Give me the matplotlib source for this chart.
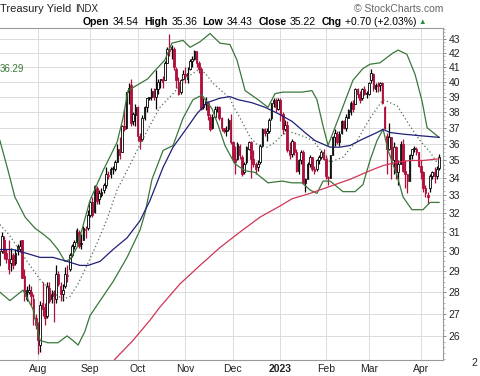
import numpy as np
import matplotlib.pyplot as plt
from matplotlib.ticker import FixedLocator, NullFormatter

plt.rcParams['font.family'] = ['Liberation Sans', 'DejaVu Sans']

# daily OHLC (trading days, 7 Jul 2022 .. 14 Apr 2023), yield x10
opens = [
    29.3, 30.0, 30.6, 29.9, 29.6, 29.4, 29.8, 29.4, 30.0, 30.1, 30.6, 28.8, 27.7, 28.0, 28.0, 27.7, 26.8,
    26.5, 25.6, 27.5, 27.3, 26.9, 28.2, 27.7, 28.0, 27.7, 28.9, 28.3, 27.9, 28.3, 28.8, 29.1, 29.8, 30.3, 30.5, 31.0, 30.4, 30.6, 31.1, 31.2,
    31.9, 32.6, 32.1, 33.4, 32.8, 33.0, 33.3, 33.6, 34.1, 34.2, 34.5, 34.5, 34.9, 35.7, 35.5, 37.1, 37.0, 39.3, 39.8, 37.4, 37.8,
    38.3, 36.5, 36.3, 37.6, 38.3, 38.9, 39.0, 39.4, 39.0, 39.5, 40.1, 40.2, 40.1, 41.3, 42.3, 42.3, 42.3, 40.9, 40.0, 39.3, 40.2,
    40.5, 40.2, 40.9, 41.4, 41.6, 42.1, 41.3, 40.9, 38.3, 38.5, 38.6, 37.7, 37.0, 37.7, 38.3, 38.3, 37.6, 37.0, 36.8, 36.9, 37.5,
    36.1, 35.1, 35.1, 35.9, 35.2, 34.3, 34.9, 35.7, 36.1, 35.1, 34.8, 34.6, 34.9, 35.9, 36.9, 36.7, 36.8, 37.6, 38.6, 38.8, 38.2,
    38.8, 37.9, 36.9, 37.2, 35.6, 35.4, 36.1, 35.5, 34.4, 35.0, 35.5, 33.7, 33.9, 34.8, 35.2, 34.5, 34.5, 35.0, 35.2, 35.5,
    35.1, 34.0, 34.0, 35.3, 36.4, 36.6, 36.1, 36.7, 37.4, 37.0, 37.6, 38.0, 38.6, 38.5, 39.5, 39.2, 38.9, 39.5, 39.2,
    39.2, 40.1, 40.5, 39.5, 39.8, 39.8, 39.9, 38.3, 36.5, 35.7, 36.4, 35.0, 35.8, 34.3, 34.8, 36.0, 34.4, 34.2, 33.8, 35.3, 35.7, 35.7, 35.5,
    34.7, 34.3, 33.4, 33.0, 33.4, 34.1, 34.3, 34.1, 34.54,
]
highs = [
    30.1, 31.0, 30.8, 30.1, 30.6, 30.2, 29.9, 30.1, 30.4, 30.6, 30.6, 29.1, 28.3, 28.4, 28.3, 27.9, 27.0,
    26.6, 27.6, 28.5, 27.5, 28.5, 28.5, 28.1, 28.1, 29.3, 29.0, 28.5, 28.4, 29.2, 29.3, 29.9, 30.4, 30.6, 31.2, 31.1, 30.9, 31.3, 31.3, 32.2,
    32.7, 32.9, 33.6, 33.5, 33.3, 33.4, 33.7, 34.6, 34.4, 34.6, 34.7, 35.0, 36.0, 36.4, 37.2, 38.2, 39.3, 39.9, 40.2, 38.0, 38.5,
    38.4, 36.7, 37.8, 38.4, 38.9, 39.0, 39.6, 39.6, 40.8, 40.2, 40.2, 40.4, 41.4, 42.4, 43.4, 42.6, 42.4, 41.0, 40.3, 40.2, 40.8,
    41.0, 41.0, 41.6, 41.8, 42.2, 42.1, 41.4, 41.0, 38.9, 39.0, 38.7, 37.9, 37.9, 38.4, 38.4, 38.4, 37.7, 37.0, 37.1, 37.6, 37.9,
    36.2, 35.9, 36.1, 36.0, 35.3, 34.9, 35.9, 36.2, 36.2, 35.6, 34.9, 35.0, 36.0, 37.0, 37.0, 37.0, 37.6, 38.6, 38.9, 38.9, 38.9,
    38.9, 38.0, 37.5, 37.4, 36.1, 36.3, 36.2, 35.7, 35.1, 35.6, 35.6, 34.0, 34.9, 35.3, 35.2, 34.7, 35.1, 35.3, 35.6, 35.7,
    35.3, 34.1, 35.3, 36.5, 36.9, 36.8, 36.8, 37.5, 37.5, 37.9, 38.2, 38.7, 38.8, 39.6, 39.6, 39.4, 39.6, 39.7, 39.4,
    40.0, 40.9, 40.6, 39.9, 40.0, 40.0, 40.0, 38.4, 36.7, 37.3, 36.4, 36.1, 35.9, 35.0, 36.2, 36.3, 35.0, 34.2, 35.4, 35.7, 35.9, 35.8, 35.5,
    35.0, 34.4, 33.6, 33.2, 34.2, 34.4, 34.6, 34.7, 35.36,
]
lows = [
    29.2, 29.9, 29.6, 29.4, 28.9, 29.0, 29.1, 29.3, 29.8, 30.0, 28.7, 27.6, 27.6, 27.9, 27.4, 26.5, 26.3,
    25.2, 25.3, 26.9, 26.5, 26.8, 27.5, 27.5, 26.6, 27.5, 28.3, 27.6, 27.6, 28.2, 28.5, 29.0, 29.7, 30.1, 30.4, 30.2, 30.1, 30.6, 30.7, 31.1,
    31.8, 31.8, 32.0, 32.5, 32.5, 32.9, 33.1, 33.4, 33.9, 34.0, 34.2, 34.4, 34.9, 35.1, 35.5, 36.8, 36.9, 38.5, 37.1, 37.2, 37.1,
    36.2, 35.7, 36.2, 37.5, 38.0, 38.8, 38.8, 38.8, 38.2, 39.2, 39.6, 39.6, 40.1, 41.3, 41.8, 41.6, 40.8, 39.6, 39.1, 39.2, 40.1,
    39.9, 39.9, 40.8, 41.0, 41.5, 41.0, 40.6, 38.1, 38.2, 38.1, 37.5, 36.8, 36.9, 37.6, 38.0, 37.5, 36.8, 36.7, 36.5, 36.8, 36.0,
    34.9, 34.2, 35.0, 35.1, 34.1, 34.2, 34.8, 35.6, 34.0, 34.6, 34.2, 34.4, 34.8, 35.8, 36.5, 36.2, 36.7, 37.5, 38.3, 38.0, 38.1,
    37.4, 36.6, 36.8, 35.5, 35.1, 35.2, 35.3, 34.3, 34.2, 34.8, 33.7, 33.2, 33.9, 34.6, 34.4, 34.2, 34.4, 34.8, 35.1, 35.0,
    33.9, 33.6, 34.0, 35.3, 35.9, 36.0, 35.9, 36.6, 36.9, 36.8, 37.6, 37.8, 38.0, 38.5, 38.9, 38.6, 38.8, 39.1, 38.9,
    39.1, 39.9, 39.4, 39.3, 39.3, 39.4, 38.5, 36.9, 34.2, 35.6, 33.9, 34.2, 33.9, 33.6, 34.8, 34.3, 33.4, 33.1, 33.8, 35.1, 35.5, 35.3, 34.6,
    33.9, 33.2, 32.9, 32.5, 33.2, 33.9, 33.7, 33.9, 34.43,
]
closes = [
    30.0, 30.8, 29.9, 29.6, 29.1, 29.6, 29.3, 29.9, 30.3, 30.3, 28.7, 27.8, 28.1, 28.1, 27.8, 26.8, 26.5,
    25.8, 27.4, 27.2, 26.8, 28.3, 27.6, 27.9, 27.8, 28.9, 28.4, 27.9, 28.1, 28.9, 28.8, 29.8, 30.3, 30.5, 31.1, 30.3, 30.4, 31.2, 31.1, 31.9,
    32.6, 31.9, 33.5, 32.7, 33.1, 33.2, 33.6, 34.2, 34.1, 34.5, 34.5, 34.9, 35.7, 35.3, 37.1, 36.9, 39.3, 39.6, 37.3, 37.9, 38.3,
    36.5, 36.2, 37.6, 38.3, 38.9, 38.9, 39.4, 39.0, 39.5, 40.0, 40.2, 40.0, 41.3, 42.3, 42.1, 42.4, 41.0, 40.1, 39.2, 40.1, 40.5,
    40.4, 40.6, 41.4, 41.6, 42.1, 41.3, 40.9, 38.2, 38.5, 38.7, 37.8, 36.9, 37.7, 38.2, 38.3, 37.6, 37.0, 36.8, 36.8, 37.5, 36.1,
    35.1, 34.9, 36.0, 35.3, 34.2, 34.8, 35.8, 36.1, 35.1, 34.8, 34.5, 34.8, 35.9, 36.9, 36.7, 36.8, 37.5, 38.6, 38.8, 38.3, 38.8,
    37.9, 36.9, 37.2, 35.6, 35.3, 36.2, 35.5, 34.4, 35.0, 35.5, 33.7, 33.9, 34.8, 35.2, 34.5, 34.4, 35.0, 35.2, 35.5, 35.1,
    34.1, 34.0, 35.3, 36.4, 36.7, 36.1, 36.6, 37.4, 37.0, 37.7, 38.1, 38.6, 38.2, 39.5, 39.2, 38.8, 39.5, 39.2, 39.2,
    39.9, 40.6, 39.6, 39.8, 39.7, 39.9, 38.6, 37.0, 35.7, 36.4, 35.0, 35.8, 34.3, 34.8, 36.0, 34.4, 34.2, 33.8, 35.3, 35.7, 35.7, 35.5, 34.7,
    34.3, 33.4, 33.1, 32.9, 34.1, 34.3, 34.1, 34.52, 35.22,
]

# overlays (x = trading-day index)
bb_upper_x = [0.2, 3.8, 6.8, 11.3, 15.7, 19.2, 22.3, 25.8, 28.9, 31.1, 34.2, 37.7, 39.9, 45.7, 51.9, 54.5, 56.7,
              58.9, 65.5, 67.7, 73.0, 76.1, 81.0, 84.1, 88.5, 92.9, 97.3, 101.7, 104.8, 108.4, 114.1, 118.5,
              121.6, 125.1, 133.5, 137.9, 140.1, 142.8, 145.0, 151.2, 156.0, 160.4, 163.5, 167.9, 173.7, 175.9,
              179.8, 183.4, 186.5, 188.7, 194]
bb_upper = [36.2, 34.4, 32.9, 31.8, 31.2, 30.9, 30.6, 30.1, 29.5, 29.6, 30.2, 31.7, 32.7, 34.4, 36.1, 37.6, 39.4,
            39.6, 40.2, 40.6, 41.5, 42.7, 42.9, 42.4, 42.8, 43.4, 42.7, 42.6, 41.5, 39.4, 38.8, 38.3,
            39.2, 39.3, 39.3, 39.4, 38.8, 37.1, 35.9, 38.2, 40.1, 40.9, 41.2, 41.3, 42.0, 42.2,
            41.9, 40.5, 38.7, 37.0, 36.4]
bb_lower_x = [0.2, 4.6, 10.4, 14.8, 17.9, 21.4, 25.8, 29.8, 32.4, 34.7, 37.7, 39.9, 44.4, 50.1, 56.3, 62.0, 64.2,
              67.3, 72.2, 76.6, 81.0, 85.4, 89.4, 93.8, 96.4, 99.5, 103.9, 108.4, 112.8, 118.5, 124.7, 129.1,
              133.5, 137.0, 140.1, 142.8, 145.9, 151.6, 156.9, 160.4, 163.5, 166.6, 169.3, 171.5, 175.5, 178.1,
              182.0, 186.9, 190.0, 194]
bb_lower = [28.0, 27.6, 28.1, 27.2, 25.8, 25.7, 25.7, 26.0, 25.8, 25.6, 26.2, 26.9, 27.6, 28.5, 29.7, 31.1, 32.0,
            33.9, 35.6, 35.9, 37.6, 38.8, 39.1, 38.2, 37.2, 35.9, 34.8, 34.4, 34.3, 33.7, 33.8, 33.7,
            33.7, 33.3, 33.1, 33.8, 33.8, 33.2, 33.2, 33.6, 35.0, 36.2, 36.9, 35.6, 34.1, 32.9,
            32.2, 32.2, 32.6, 32.6]
sma20_x = [0.2, 4.6, 9.1, 13.5, 17.9, 22.3, 25.8, 28.9, 31.1, 34.7, 38.6, 43.0, 47.5, 51.9, 56.3, 60.7, 65.5,
           70.8, 76.6, 82.8, 87.6, 90.7, 94.2, 98.6, 101.7, 103.1, 107.0, 110.6, 114.1, 118.1, 121.6, 125.1,
           129.1, 133.5, 138.4, 145.9, 151.6, 157.8, 163.5, 169.3, 175.5, 181.2, 185.6, 190.0, 194]
sma20 = [31.4, 30.8, 30.0, 29.3, 28.6, 28.1, 27.8, 27.7, 27.8, 28.4, 29.3, 30.4, 31.7, 33.3, 34.4, 35.6, 36.9,
         38.3, 39.2, 40.3, 40.8, 40.6, 39.9, 39.3, 38.9, 38.4, 37.4, 36.4, 35.9, 35.8, 36.1, 36.6,
         36.7, 36.5, 36.2, 34.9, 35.2, 36.2, 37.6, 38.8, 38.4, 37.1, 36.2, 35.5, 34.7]
sma50_x = [0.2, 5.9, 12.1, 17.9, 23.6, 29.8, 35.5, 39.1, 44.4, 50.1, 56.3, 62.0, 66.4, 72.2, 76.6, 82.8, 87.2,
           91.6, 97.3, 101.7, 105.3, 111.4, 117.2, 122.9, 129.1, 134.8, 139.2, 145.9, 150.3, 154.7, 160.4,
           166.6, 169.3, 172.3, 178.1, 185.6, 194]
sma50 = [30.1, 30.1, 29.9, 29.7, 29.7, 29.5, 29.3, 29.3, 29.5, 30.1, 30.7, 31.6, 32.7, 34.6, 35.8, 37.0, 37.9,
         38.6, 38.9, 39.0, 38.8, 38.6, 38.3, 37.9, 37.4, 36.7, 36.2, 35.8, 35.8, 35.9, 36.3,
         36.7, 36.9, 36.7, 36.6, 36.5, 36.4]
sma200_x = [48, 51.0, 58.9, 66.4, 70.8, 79.7, 88.5, 97.3, 106.1, 115.0, 123.8, 129.1, 137.0, 145.9, 154.7,
            163.5, 169.3, 175.5, 181.2, 186.9, 194]
sma200 = [24.6, 25.0, 25.8, 26.7, 27.3, 28.4, 29.3, 30.2, 31.0, 31.8, 32.4, 32.8, 33.1, 33.5, 33.9,
          34.4, 34.7, 34.9, 35.0, 35.0, 35.1]

month_starts = [17, 40, 61, 82, 103, 124, 144, 163, 186]
month_labels = ['Aug', 'Sep', 'Oct', 'Nov', 'Dec', '2023', 'Feb', 'Mar', 'Apr']
price_ticks = list(range(26, 44))

RED = '#b00f3c'
BLACK = '#000000'
GRID = '#dcdcdc'

fig = plt.figure(figsize=(4.8, 3.76), dpi=100)
ax = fig.add_axes([0, 16 / 376, 443 / 480, 332 / 376])
ax.set_yscale('log')
ax.set_xlim(0.23, 195.73)
ax.set_ylim(24.96, 43.81)

for v in price_ticks:
    ax.axhline(v, color=GRID, lw=0.7, zorder=0)
for m in month_starts:
    ax.axvline(m, color=GRID, lw=0.7, zorder=0)

# candles: red when close below previous close, hollow when close above open
o = np.array(opens)
h = np.array(highs)
l = np.array(lows)
c = np.array(closes)
idx = np.arange(len(c))
prev = np.r_[o[0], c[:-1]]
edge = np.where(c < prev, RED, BLACK)
face = np.where(c >= o, 'white', edge)
body_lo = np.minimum(o, c)
body_h = np.maximum(np.abs(c - o), 0.05)

ax.vlines(idx, l, h, colors=edge, lw=0.9, zorder=2)
ax.bar(idx, body_h, bottom=body_lo, width=0.7, color=face, edgecolor=edge,
       linewidth=0.6, zorder=3)

# overlays
ax.plot(bb_upper_x, bb_upper, color='#3a773a', lw=0.9, zorder=4)
ax.plot(bb_lower_x, bb_lower, color='#3a773a', lw=0.9, zorder=4)
ax.plot(sma20_x, sma20, color='#4f6f4f', lw=0.9, ls=(0, (1, 2)), zorder=4)
ax.plot(sma50_x, sma50, color='#1f1f78', lw=0.9, zorder=4)
ax.plot(sma200_x, sma200, color='#d03556', lw=0.9, zorder=4)

# axes styling
ax.spines['left'].set_visible(False)
for s in ['top', 'right', 'bottom']:
    ax.spines[s].set_color('#9a9a9a')
    ax.spines[s].set_linewidth(0.8)

ax.yaxis.tick_right()
ax.yaxis.set_major_locator(FixedLocator(price_ticks))
ax.set_yticklabels([str(v) for v in price_ticks])
ax.yaxis.set_minor_locator(FixedLocator(np.arange(25.0, 43.8, 0.25)))
ax.yaxis.set_minor_formatter(NullFormatter())
ax.tick_params(axis='y', which='major', length=2.5, width=0.6, color='#777777',
               labelsize=7.5, pad=1.5, labelcolor='#222222')
ax.tick_params(axis='y', which='minor', length=1.2, width=0.5, color='#999999')

ax.set_xticks(month_starts)
ax.set_xticklabels(month_labels)
ax.tick_params(axis='x', length=0, labelsize=7.5, pad=3, labelcolor='#222222')
for lab in ax.get_xticklabels():
    if lab.get_text() == '2023':
        lab.set_fontweight('bold')

# header texts
t = fig.text(0, 1 - 9 / 376, 'Treasury Yield', fontsize=8, va='center', ha='left', color='#222222')
ax.annotate('INDX', xy=(1, 0), xycoords=t, xytext=(3, 0), textcoords='offset points',
            fontsize=7, va='bottom', ha='left', color='#222222')
fig.text(443 / 480, 1 - 9 / 376, '\u00a9 StockCharts.com', fontsize=7.5, va='center', ha='right',
         color='#666666')

pieces = [('Open', 'bold', BLACK, 0), ('34.54', 'normal', BLACK, 2.5),
          ('High', 'bold', BLACK, 4), ('35.36', 'normal', BLACK, 2.5),
          ('Low', 'bold', BLACK, 4), ('34.43', 'normal', BLACK, 2.5),
          ('Close', 'bold', BLACK, 4), ('35.22', 'normal', BLACK, 2.5),
          ('Chg', 'bold', BLACK, 4), ('+0.70 (+2.03%)', 'normal', BLACK, 2.5),
          ('\u25b2', 'normal', '#2e8b3a', 1.5)]
prev_t = None
for s, w, col, gap in pieces:
    fs = 5.5 if s == '\u25b2' else 7.5
    if prev_t is None:
        prev_t = fig.text(83 / 480, 1 - 22 / 376, s, fontsize=fs, fontweight=w, color=col,
                          va='center', ha='left')
    else:
        prev_t = ax.annotate(s, xy=(1, 0.5), xycoords=prev_t, xytext=(gap, 0),
                             textcoords='offset points', fontsize=fs, fontweight=w,
                             color=col, va='center', ha='left')

fig.text(0, 1 - 69 / 376, '36.29', fontsize=7, color='#3a773a', va='center', ha='left')
fig.text(471 / 480, 1 - 363 / 376, '2', fontsize=7.5, color='#222222', va='center', ha='left')

fig.savefig('out.png', dpi=100)
